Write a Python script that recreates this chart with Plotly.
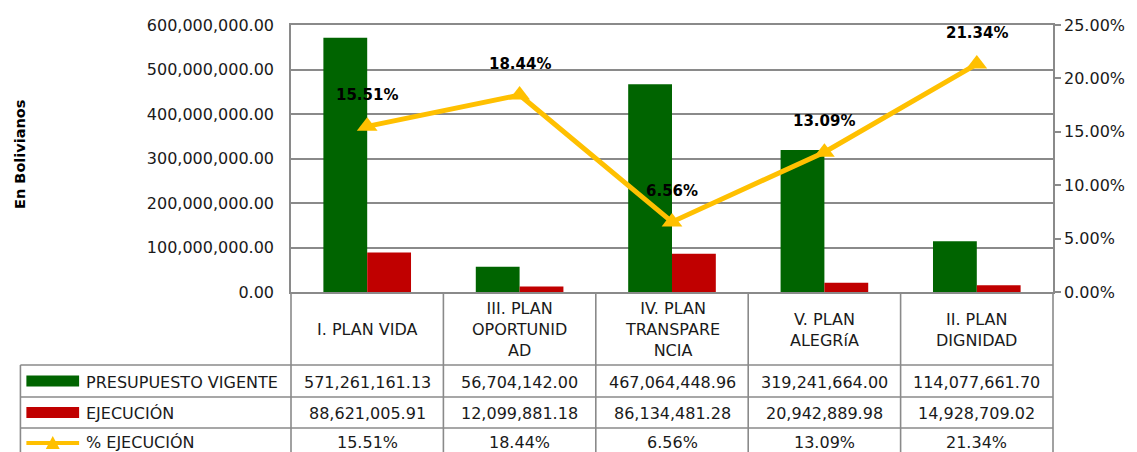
import plotly.graph_objects as go

# ---------------- data ----------------
categories = ["I. PLAN VIDA", "III. PLAN<br>OPORTUNID<br>AD", "IV. PLAN<br>TRANSPARE<br>NCIA",
              "V. PLAN<br>ALEGRíA", "II. PLAN<br>DIGNIDAD"]
presupuesto = [571261161.13, 56704142.00, 467064448.96, 319241664.00, 114077661.70]
ejecucion = [88621005.91, 12099881.18, 86134481.28, 20942889.98, 14928709.02]
pct_ejecucion = [15.51, 18.44, 6.56, 13.09, 21.34]
series_names = ["PRESUPUESTO VIGENTE", "EJECUCIÓN", "% EJECUCIÓN"]
y_title = "En Bolivianos"

# ---------------- style ----------------
FONT = "DejaVu Sans"
FS = 16
GREEN = "#006400"
RED = "#C00000"
GOLD = "#FFC000"
GRID = "#8A8A8A"
TXT = "#1a1a1a"
W, H = 1137, 452
PL, PR, PT, PB = 291, 1057, 25, 292


def px_x(x):
    return (x - PL) / (PR - PL)


def px_y(y):
    return (PB - y) / (PB - PT)


fig = go.Figure()
fig.add_trace(go.Bar(x=categories, y=presupuesto, name=series_names[0], marker_color=GREEN,
                     marker_line_width=0))
fig.add_trace(go.Bar(x=categories, y=ejecucion, name=series_names[1], marker_color=RED,
                     marker_line_width=0))
fig.add_trace(go.Scatter(x=categories, y=pct_ejecucion, name=series_names[2], yaxis="y2",
                         mode="lines+markers", line=dict(color=GOLD, width=5),
                         marker=dict(symbol="triangle-up", size=18, color=GOLD), cliponaxis=False))

annotations = []
# data labels
for c, p in zip(categories, pct_ejecucion):
    annotations.append(dict(x=c, y=p, xref="x", yref="y2", yshift=31, showarrow=False,
                            text=f"<b>{p:.2f}%</b>", font=dict(family=FONT, size=15, color="black")))

# y title
annotations.append(dict(x=px_x(18.5), y=px_y(154), xref="paper", yref="paper", showarrow=False,
                        xanchor="center", yanchor="middle",
                        text=f"<b>{y_title}</b>", textangle=-90,
                        font=dict(family=FONT, size=14.5, color="black")))

# table rows (px)
hdr_top, r1, r2, r3, r4 = 292, 365, 397, 428, 460
row_centers = [(r1 + r2) / 2 + 1, (r2 + r3) / 2 + 1, 442]
table_left = 19

# header cells
for c in categories:
    annotations.append(dict(x=c, y=px_y((hdr_top + r1) / 2 + 1), xref="x", yref="paper", showarrow=False,
                            text=c, align="center", yanchor="middle",
                            font=dict(family=FONT, size=FS, color=TXT)))
# value cells
rows = [[f"{v:,.2f}" for v in presupuesto],
        [f"{v:,.2f}" for v in ejecucion],
        [f"{v:.2f}%" for v in pct_ejecucion]]
for ri, row in enumerate(rows):
    for c, t in zip(categories, row):
        annotations.append(dict(x=c, y=px_y(row_centers[ri]), xref="x", yref="paper", showarrow=False,
                                text=t, yanchor="middle", font=dict(family=FONT, size=FS, color=TXT)))
    annotations.append(dict(x=px_x(83), y=px_y(row_centers[ri]), xref="paper", yref="paper",
                            showarrow=False, text=series_names[ri], xanchor="left", yanchor="middle",
                            font=dict(family=FONT, size=FS, color=TXT)))

shapes = []
LINE = dict(color=GRID, width=1.6)
for y in (r1, r2, r3):
    shapes.append(dict(type="line", xref="paper", yref="paper", x0=px_x(table_left), x1=1,
                       y0=px_y(y), y1=px_y(y), line=LINE, layer="above"))
shapes.append(dict(type="line", xref="paper", yref="paper", x0=px_x(table_left), x1=px_x(table_left),
                   y0=px_y(r1), y1=px_y(H + 5), line=LINE))
n = len(categories)
for i in range(n + 1):
    shapes.append(dict(type="line", xref="paper", yref="paper", x0=i / n, x1=i / n,
                       y0=0, y1=px_y(H + 5), line=LINE))
# legend keys
kx0, kx1 = 25, 78
ky = [(r1 + r2) / 2, (r2 + r3) / 2, 443]
shapes.append(dict(type="rect", xref="paper", yref="paper", x0=px_x(kx0), x1=px_x(kx1),
                   y0=px_y(ky[0] - 5.5), y1=px_y(ky[0] + 5.5),
                   fillcolor=GREEN, line=dict(width=0)))
shapes.append(dict(type="rect", xref="paper", yref="paper", x0=px_x(kx0), x1=px_x(kx1),
                   y0=px_y(ky[1] - 5.5), y1=px_y(ky[1] + 5.5),
                   fillcolor=RED, line=dict(width=0)))
yc = ky[2]
shapes.append(dict(type="line", xref="paper", yref="paper", x0=px_x(kx0), x1=px_x(kx1),
                   y0=px_y(yc), y1=px_y(yc), line=dict(color=GOLD, width=4)))
mx = (kx0 + kx1) / 2
shapes.append(dict(type="path", xref="paper", yref="paper",
                   path=f"M {px_x(mx - 7)} {px_y(yc + 6)} L {px_x(mx + 7)} {px_y(yc + 6)} L {px_x(mx)} {px_y(yc - 7)} Z",
                   fillcolor=GOLD, line=dict(width=0)))

fig.update_layout(
    width=W, height=H, autosize=False,
    margin=dict(l=PL, r=W - PR, t=PT, b=H - PB, pad=0),
    paper_bgcolor="white", plot_bgcolor="white",
    font=dict(family=FONT, size=FS, color=TXT),
    showlegend=False,
    barmode="group", bargap=0.425, bargroupgap=0,
    xaxis=dict(showticklabels=False, showgrid=False, showline=True, mirror=True,
               linecolor=GRID, linewidth=1.6, ticks="", range=[-0.5, n - 0.5], fixedrange=True),
    yaxis=dict(range=[0, 600e6], dtick=100e6, tickformat=",.2f", showgrid=True, gridcolor=GRID,
               gridwidth=1.6, showline=True, linecolor=GRID, linewidth=1.6, ticks="",
               ticklabelstandoff=12, zeroline=False, tickfont=dict(size=FS, color=TXT)),
    yaxis2=dict(range=[0, 25], dtick=5, tickformat=".2f", ticksuffix="%", overlaying="y",
                side="right", showgrid=False, showline=True, linecolor=GRID, linewidth=1.6,
                ticks="outside", ticklen=6, tickcolor=GRID, tickwidth=1.6, zeroline=False,
                tickfont=dict(size=FS, color=TXT)),
    annotations=annotations,
    shapes=shapes,
)

fig.write_html("out.html", config={"displayModeBar": False},
               post_script="document.body.style.margin='0';document.body.style.overflow='hidden';")
